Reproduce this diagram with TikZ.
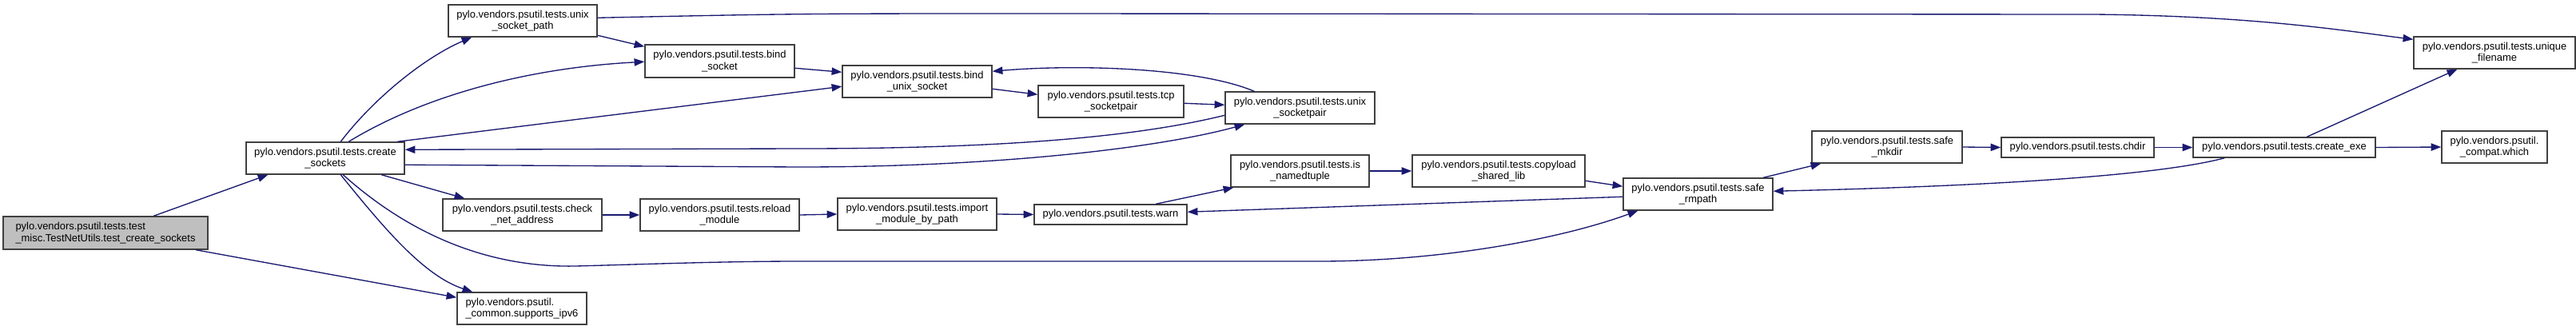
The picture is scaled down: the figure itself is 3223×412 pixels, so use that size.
\documentclass[tikz,border=0pt]{standalone}
\usepackage{fontspec}
\setmainfont{Liberation Sans}
\usetikzlibrary{calc,arrows.meta}
\definecolor{edgec}{HTML}{191970}
\definecolor{boxc}{HTML}{404040}
\definecolor{grayfill}{HTML}{BFBFBF}
\begin{document}
\begin{tikzpicture}[x={(0.75pt,0pt)}, y={(0pt,-0.75pt)},
  fn/.style={draw=boxc, line width=1.1pt, fill=white, inner sep=0pt, align=center,
    font=\fontsize{9.7}{10.75}\selectfont},
  fnl/.style={fn, align=left},
  e/.style={draw=edgec, line width=1pt, -{Triangle[length=9.5pt,width=7pt]}}]
\useasboundingbox (0,0) rectangle (3223,412);
% nodes
\node[fnl, fill=grayfill, minimum width=192pt, minimum height=30.75pt] (t) at (132,291.5) {pylo.vendors.psutil.tests.test\\\_misc.TestNetUtils.test\_create\_sockets};
\node[fn, minimum width=148.5pt, minimum height=30pt] (cs) at (407,198) {pylo.vendors.psutil.tests.create\\\_sockets};
\node[fn, minimum width=139.5pt, minimum height=30pt] (usp) at (654,26) {pylo.vendors.psutil.tests.unix\\\_socket\_path};
\node[fn, minimum width=140.25pt, minimum height=30.75pt] (bs) at (900.5,76.5) {pylo.vendors.psutil.tests.bind\\\_socket};
\node[fn, minimum width=140.25pt, minimum height=30pt] (bus) at (1147.5,102) {pylo.vendors.psutil.tests.bind\\\_unix\_socket};
\node[fn, minimum width=136.5pt, minimum height=30pt] (tcp) at (1390,127) {pylo.vendors.psutil.tests.tcp\\\_socketpair};
\node[fn, minimum width=140.25pt, minimum height=30pt] (uspr) at (1626.5,135) {pylo.vendors.psutil.tests.unix\\\_socketpair};
\node[fn, minimum width=149.25pt, minimum height=30pt] (cna) at (653.5,269) {pylo.vendors.psutil.tests.check\\\_net\_address};
\node[fn, minimum width=149.25pt, minimum height=30pt] (rm) at (900.5,269) {pylo.vendors.psutil.tests.reload\\\_module};
\node[fn, minimum width=149.25pt, minimum height=30pt] (imp) at (1147.5,268) {pylo.vendors.psutil.tests.import\\\_module\_by\_path};
\node[fn, minimum width=143.25pt, minimum height=18.75pt] (warn) at (1389.5,268.5) {pylo.vendors.psutil.tests.warn};
\node[fn, minimum width=129.75pt, minimum height=30pt] (isn) at (1626.5,214) {pylo.vendors.psutil.tests.is\\\_namedtuple};
\node[fn, minimum width=162pt, minimum height=30pt] (csl) at (1875,214) {pylo.vendors.psutil.tests.copyload\\\_shared\_lib};
\node[fn, minimum width=140.25pt, minimum height=30pt] (srm) at (2124.5,243) {pylo.vendors.psutil.tests.safe\\\_rmpath};
\node[fn, minimum width=141pt, minimum height=30pt] (smk) at (2361,184) {pylo.vendors.psutil.tests.safe\\\_mkdir};
\node[fn, minimum width=143.25pt, minimum height=18.75pt] (chd) at (2599.5,184.5) {pylo.vendors.psutil.tests.chdir};
\node[fn, minimum width=171pt, minimum height=18.75pt] (cexe) at (2858,184.5) {pylo.vendors.psutil.tests.create\_exe};
\node[fn, minimum width=151.5pt, minimum height=30pt] (uf) at (3121,66) {pylo.vendors.psutil.tests.unique\\\_filename};
\node[fn, minimum width=99pt, minimum height=30pt] (cw) at (3121,184) {pylo.vendors.psutil.\\\_compat.which};
\node[fnl, minimum width=121.5pt, minimum height=30pt] (ipv6) at (653,386) {pylo.vendors.psutil.\\\_common.supports\_ipv6};
% edges
\draw[e] ($(t.north west)+(189,0)$) -- ($(cs.south west)+(28,0)$);
\draw[e] ($(t.south west)+(242,0)$) -- ($(ipv6.north west)+(0,7)$);
\draw[e] ($(cs.north west)+(119,0)$) .. controls (470,120) and (535,70) .. ($(usp.south west)+(30,0)$);
\draw[e] ($(cs.north west)+(129,0)$) .. controls (530,120) and (660,85) .. ($(bs.north west)+(0,22)$);
\draw[e] ($(cs.north west)+(190,0)$) -- ($(bus.north west)+(0,27)$);
\draw[e] ($(uspr.north west)+(0,30)$) .. controls (1420,172) and (1250,186) .. (1000,186) -- ($(cs.north east)+(0,10)$);
\draw[e] ($(cs.north east)+(0,29)$) -- (1000,209) .. controls (1250,209) and (1450,185) .. ($(uspr.south west)+(25,0)$);
\draw[e] ($(cs.south west)+(170,0)$) -- ($(cna.north west)+(28,0)$);
\draw[e] ($(cs.south west)+(122,0)$) .. controls (520,300) and (620,335) .. (720,333) .. controls (800,331) and (900,327) .. (1000,327) -- (1650,327) .. controls (1800,327) and (1950,300) .. ($(srm.south west)+(19,0)$);
\draw[e] ($(cs.south west)+(119,0)$) .. controls (480,285) and (530,345) .. ($(ipv6.north west)+(20,0)$);
\draw[e] ($(usp.north east)+(0,39)$) -- ($(bs.north west)+(0,3)$);
\draw[e] ($(usp.north east)+(0,17)$) .. controls (1000,17) .. (1300,17) -- (2620,18) .. controls (2820,20) and (2930,38) .. ($(uf.north west)+(0,4)$);
\draw[e] ($(bs.north east)+(0,30)$) -- ($(bus.north west)+(0,9)$);
\draw[e] ($(bus.north east)+(0,30)$) -- ($(tcp.north west)+(0,12)$);
\draw[e] ($(tcp.north east)+(0,23)$) -- ($(uspr.north west)+(0,17)$);
\draw[e] ($(uspr.north west)+(37,0)$) .. controls (1500,85) and (1350,80) .. ($(bus.north east)+(0,8)$);
\draw[e] (cna.east) -- (rm.west);
\draw[e] (rm.east) -- (imp.west);
\draw[e] (imp.east) -- (warn.west);
\draw[e] ($(warn.north west)+(153,0)$) -- ($(isn.south west)+(4,0)$);
\draw[e] ($(srm.north west)+(0,24)$) -- ($(warn.north east)+(0,10)$);
\draw[e] (isn.east) -- (csl.west);
\draw[e] ($(csl.north east)+(0,33)$) -- ($(srm.north west)+(0,11)$);
\draw[e] ($(srm.north west)+(176,0)$) -- ($(smk.south west)+(12,0)$);
\draw[e] (smk.east) -- (chd.west);
\draw[e] (chd.east) -- (cexe.west);
\draw[e] ($(cexe.north west)+(143,0)$) -- ($(uf.south west)+(55,0)$);
\draw[e] (cexe.east) -- (cw.west);
\draw[e] ($(cexe.south west)+(40,0)$) .. controls (2680,225) and (2400,235) .. ($(srm.north east)+(0,17)$);
\end{tikzpicture}
\end{document}
